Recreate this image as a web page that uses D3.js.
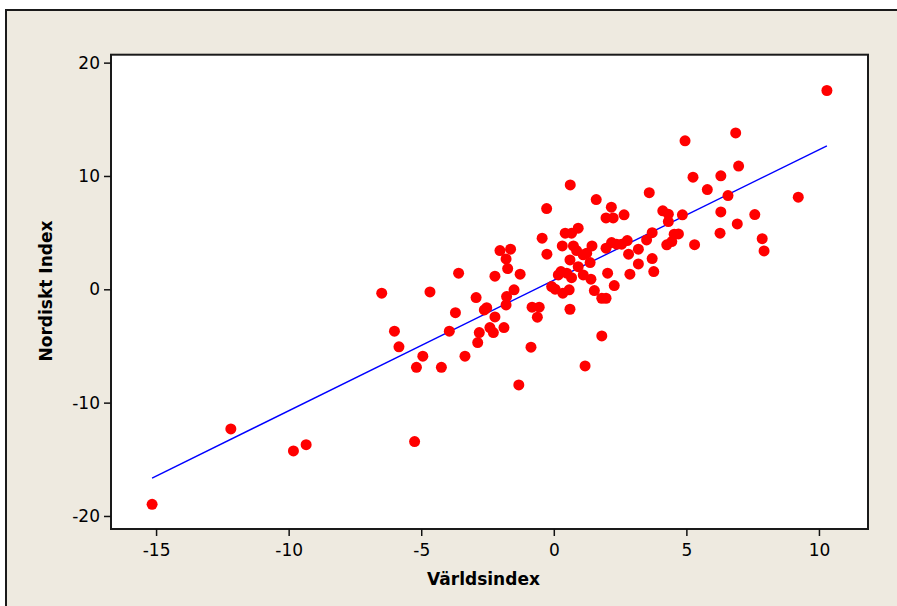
<html>
<head>
<script src="https://d3js.org/d3.v7.min.js"></script>
<style>
body { margin: 0; background: #fff; }
.tick text { font-family: 'DejaVu Sans', sans-serif; font-size: 17px; fill: #000; }
.tick line { stroke: #111; stroke-width: 1.5; }
.title { font-family: 'DejaVu Sans', sans-serif; font-size: 17px; font-weight: bold; fill: #000; }
</style>
</head>
<body>
<div id="plot"></div>
<script>

// Världsindex (x) and Nordiskt Index (y)
var varldsindex = [
  10.30, 4.95, 6.86, 6.97, 5.25, 5.79, 6.30, 6.57, 9.22, 4.85,
  6.30, 7.58, 6.92, 6.27, 4.70, 7.86, 5.31, 7.93, 0.62, 1.60,
  2.17, 1.97, 2.24, 2.65, 3.60, -0.27, 4.11, 4.32, 4.32, -0.44,
  -0.26, 0.43, 0.67, 0.92, 0.32, 0.74, 0.86, 1.44, 1.97, 2.18,
  2.37, 2.56, 2.77, 3.50, 3.71, 3.19, 2.82, 4.26, 4.45, 4.54,
  3.71, 3.19, 3.77, 0.61, 1.11, 1.24, 1.37, 0.92, 0.27, 0.17,
  0.49, 0.67, 1.11, 1.40, 2.03, 2.87, -1.27, -0.08, 0.05, 0.34,
  0.58, 1.53, 2.28, 1.81, 1.97, -0.82, -0.55, -0.62, 0.61, 1.81,
  -0.86, 1.18, -6.49, -4.67, -3.59, -2.03, -1.63, -1.80, -1.74, -2.22,
  -2.93, -1.50, -1.78, -2.53, -2.62, -1.80, -3.71, -2.22, -6.01, -3.94,
  -2.41, -2.28, -1.88, -2.81, -2.87, -5.84, -4.94, -3.35, -5.18, -4.24,
  -1.32, -12.18, -9.82, -9.34, -5.25, -15.15
];
var nordisktIndex = [
  17.54, 13.10, 13.80, 10.87, 9.89, 8.80, 10.01, 8.27, 8.13, 6.57,
  6.83, 6.59, 5.77, 4.95, 4.89, 4.47, 3.94, 3.39, 9.21, 7.92,
  7.25, 6.30, 6.30, 6.57, 8.53, 7.12, 6.92, 6.63, 5.98, 4.51,
  3.10, 4.95, 4.95, 5.39, 3.83, 3.83, 3.42, 3.83, 3.63, 4.12,
  3.98, 3.98, 4.30, 4.36, 5.00, 3.54, 3.10, 3.92, 4.21, 4.86,
  2.71, 2.24, 1.56, 2.59, 3.04, 3.19, 2.36, 2.00, 1.56, 1.27,
  1.42, 1.03, 1.27, 0.89, 1.42, 1.33, 1.33, 0.24, 0.01, -0.34,
  -0.05, -0.11, 0.33, -0.79, -0.79, -1.58, -1.58, -2.46, -1.76, -4.11,
  -5.11, -6.76, -0.34, -0.23, 1.42, 3.42, 3.54, 2.68, 1.83, 1.16,
  -0.73, -0.05, -0.64, -1.62, -1.82, -1.38, -2.06, -2.44, -3.70, -3.70,
  -3.38, -3.82, -3.38, -3.82, -4.70, -5.08, -5.90, -5.90, -6.88, -6.88,
  -8.44, -12.32, -14.26, -13.71, -13.44, -18.97
];

// fitted line (as drawn)
var fitIntercept = 0.80;
var fitSlope = 1.152;

var xTicks = [-15, -10, -5, 0, 5, 10];
var yTicks = [-20, -10, 0, 10, 20];

var width = 897;
var height = 606;
var plotLeft = 111, plotRight = 868, plotTop = 54.7, plotBottom = 529;

var svg = d3.select("#plot").append("svg")
  .attr("width", width).attr("height", height);

// beige panel with its frame
svg.append("rect")
  .attr("x", 6).attr("y", 10).attr("width", width + 10).attr("height", height + 10)
  .style("fill", "#eeeae0").style("stroke", "#1a1a1a").style("stroke-width", 2);

var xScale = d3.scaleLinear().domain([-16.7, 11.85]).range([plotLeft, plotRight]);
var yScale = d3.scaleLinear().domain([-21.15, 20.7]).range([plotBottom, plotTop]);

svg.append("rect")
  .attr("x", plotLeft).attr("y", plotTop)
  .attr("width", plotRight - plotLeft).attr("height", plotBottom - plotTop)
  .style("fill", "#fff").style("stroke", "#1a1a1a").style("stroke-width", 2);

// plain hyphen for negative numbers, like the original
var fmt = d => String(d);

var xAxis = d3.axisBottom(xScale).tickValues(xTicks).tickFormat(fmt)
  .tickSize(7).tickSizeOuter(0).tickPadding(8);
svg.append("g").attr("transform", "translate(0," + plotBottom + ")").call(xAxis)
  .call(g => g.select(".domain").remove());

var yAxis = d3.axisLeft(yScale).tickValues(yTicks).tickFormat(fmt)
  .tickSize(7).tickSizeOuter(0).tickPadding(4);
svg.append("g").attr("transform", "translate(" + plotLeft + ",0)").call(yAxis)
  .call(g => g.select(".domain").remove());

svg.append("text").attr("class", "title")
  .attr("x", (plotLeft + plotRight) / 2 - 6).attr("y", 585)
  .attr("text-anchor", "middle").text("Världsindex");

svg.append("text").attr("class", "title")
  .attr("transform", "rotate(-90)")
  .attr("x", -291).attr("y", 52)
  .attr("text-anchor", "middle").text("Nordiskt Index");

// regression line over the range of the data
var xExt = d3.extent(varldsindex);
svg.append("line")
  .attr("x1", xScale(xExt[0])).attr("y1", yScale(fitIntercept + fitSlope * xExt[0]))
  .attr("x2", xScale(xExt[1])).attr("y2", yScale(fitIntercept + fitSlope * xExt[1]))
  .style("stroke", "#0000ff").style("stroke-width", 1.4);

svg.selectAll("circle.pt")
  .data(varldsindex.map((x, i) => ({ x: x, y: nordisktIndex[i] })))
  .enter().append("circle")
  .attr("class", "pt")
  .attr("cx", d => xScale(d.x))
  .attr("cy", d => yScale(d.y))
  .attr("r", 5.5)
  .style("fill", "#ff0000");

</script>
</body>
</html>
